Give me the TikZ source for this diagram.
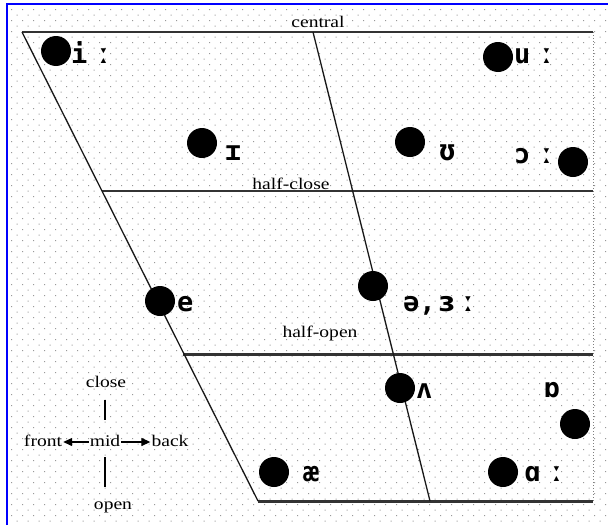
\documentclass[tikz,border=0pt]{standalone}
\usepackage{fontspec}
\setmainfont[FakeStretch=1.2]{Liberation Serif}
\newfontfamily\ipa{DejaVu Sans Mono Bold}
\usetikzlibrary{arrows.meta}
\newcommand\lng{\kern8pt ː}
\tikzset{
  dotc/.style={fill=black!40},
  vdot/.style={circle, fill=black, draw=none, minimum size=30pt, inner sep=0pt},
  ipalab/.style={anchor=base west, inner sep=0pt, font=\ipa\fontsize{27}{30}\selectfont},
  lab/.style={anchor=base, inner sep=1pt, text height=11pt, text depth=3pt, font=\fontsize{16.3}{18}\selectfont},
  thin line/.style={line width=1.3pt, black!90},
  mid line/.style={line width=2pt, black!80},
  thick line/.style={line width=3pt, black!80},
  arr/.style={line width=1.3pt, -{Triangle[length=9pt,width=8pt]}},
}
\begin{document}
\begin{tikzpicture}[x=1pt, y=-1pt]
\useasboundingbox (0,0) rectangle (608,525);
\fill[white] (0,0) rectangle (608,525);
% dotted background (staggered grid)
\foreach \y in {9,20,...,524} {
  \fill[dotc] foreach \x in {11,22,...,606} { (\x,\y) rectangle ++(1.2,1.2) };
  \fill[dotc] foreach \x in {16.5,27.5,...,606} { (\x,\y+5.5) rectangle ++(1.2,1.2) };
}
% blue border
\draw[blue, line width=2pt] (7,525) -- (7,4) -- (608,4);
% chart frame
\coordinate (TL) at (22,32);
\coordinate (TR) at (593,32);
\coordinate (BL) at (258,501);
\coordinate (BR) at (593,501);
\coordinate (CT) at (313,32);
\coordinate (CB) at (430,501);
\coordinate (HCL) at (102,191);
\coordinate (HCR) at (593,191);
\coordinate (HOL) at (183,354);
\coordinate (HOR) at (593,354);
\draw[black!50, dotted, line width=1pt] (TR) -- (BR);
\draw[mid line] (TL) -- (TR);
\draw[mid line] (HCL) -- (HCR);
\draw[thick line] (HOL) -- (HOR);
\draw[thick line] (BL) -- (BR);
\draw[thin line] (TL) -- (BL);
\draw[thin line] (CT) -- (CB);
% level labels
\node[lab] (central) at (318,27) {central};
\node[lab] (halfclose) at (291,189) {half-close};
\node[lab] (halfopen) at (320,337) {half-open};
% vowels: dots
\node[vdot] (d-i) at (56,51) {};
\node[vdot] (d-u) at (498,57) {};
\node[vdot] (d-I) at (202,143) {};
\node[vdot] (d-U) at (410,142) {};
\node[vdot] (d-o) at (573,162) {};
\node[vdot] (d-e) at (160,301) {};
\node[vdot] (d-schwa) at (373,286) {};
\node[vdot] (d-V) at (400,388) {};
\node[vdot] (d-Q) at (575,424) {};
\node[vdot] (d-ae) at (274,472) {};
\node[vdot] (d-A) at (503,472) {};
% vowels: labels
\node[ipalab] (l-i) at (71,63) {i\lng};
\node[ipalab] (l-u) at (514,63) {u\lng};
\node[ipalab] (l-I) at (225,160) {ɪ};
\node[ipalab] (l-U) at (439,159) {ʊ};
\node[ipalab] (l-o) at (514,163) {ɔ\lng};
\node[ipalab] (l-e) at (177,311) {e};
\node[ipalab] (l-schwa) at (403,311) {ə,\kern3pt ɜ\kern5pt ː};
\node[ipalab] (l-V) at (416,398) {ʌ};
\node[ipalab] (l-Q) at (544,397) {ɒ};
\node[ipalab] (l-ae) at (303,481) {æ};
\node[ipalab] (l-A) at (524,481) {ɑ\lng};
% legend
\node[lab] (close) at (106,387) {close};
\node[lab] (mid) at (105,446) {mid};
\node[lab] (front) at (43,446) {front};
\node[lab] (back) at (170,446) {back};
\node[lab] (open) at (113,509) {open};
\draw[arr] (mid.west) -- (front.east);
\draw[arr] (mid.east) -- (back.west);
\draw[line width=1.3pt, shorten <=14pt, shorten >=9pt] (mid.north) -- (mid.north |- close.south);
\draw[line width=1.3pt, shorten <=7pt, shorten >=10pt] (mid.south) -- (mid.south |- open.north);
\end{tikzpicture}
\end{document}
